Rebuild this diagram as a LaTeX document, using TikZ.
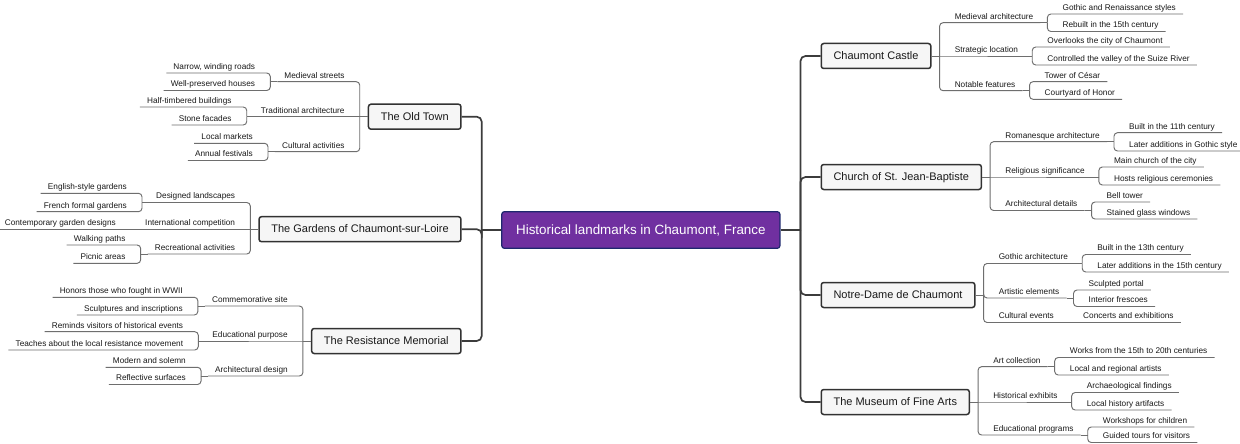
\documentclass[tikz,border=0pt]{standalone}
\usepackage{fontspec}
\setmainfont{Liberation Sans}
\usetikzlibrary{calc}
\definecolor{rootfill}{RGB}{112,48,160}
\definecolor{rootdraw}{RGB}{30,40,110}
\definecolor{boxfill}{RGB}{246,246,246}
\definecolor{boxdraw}{RGB}{50,50,50}
\definecolor{trunkc}{RGB}{60,60,60}
\definecolor{brc}{RGB}{110,110,110}
\definecolor{txt}{RGB}{25,25,25}
\tikzset{
  rootbox/.style={draw=rootdraw, fill=rootfill, line width=1.2pt, rounded corners=2.5pt, text=white,
    font=\fontsize{13.4}{16}\selectfont, inner xsep=14.3pt, inner ysep=0pt, minimum height=36.6pt, text height=9.8pt, text depth=1.2pt},
  topicbox/.style={draw=boxdraw, fill=boxfill, line width=1.5pt, rounded corners=2.5pt, text=txt,
    font=\fontsize{11}{13}\selectfont, inner xsep=12.3pt, inner ysep=0pt, minimum height=25pt, text height=8pt, text depth=1pt},
  lbl/.style={text=txt, font=\fontsize{8.25}{10}\selectfont, inner xsep=7pt, inner ysep=1.6pt, text height=6pt, text depth=1.8pt},
  trunk/.style={draw=trunkc, line width=1.7pt, rounded corners=5pt},
  br/.style={draw=brc, line width=0.95pt, rounded corners=3.5pt},
}
% right-hand topic: name, y, text
\newcommand\RTopic[3]{%
  \node[topicbox, anchor=west] (#1) at ($(rj |- 0,#2)+(20,0)$) {#3};
  \draw[trunk] (rj) |- (#1.west);
  \coordinate (#1o) at (#1.east);
  \coordinate (#1j) at ($(#1.east)+(8,0)$);
}
% left-hand topic
\newcommand\LTopic[3]{%
  \node[topicbox, anchor=east] (#1) at ($(lj |- 0,#2)+(-20,0)$) {#3};
  \draw[trunk] (lj) |- (#1.east);
  \coordinate (#1o) at (#1.west);
  \coordinate (#1j) at ($(#1.west)+(-8,0)$);
}
% right-hand label: name, parent, y, text
\newcommand\RSub[4]{%
  \node[lbl, anchor=south west] (#1) at ($(#2j |- 0,#3)+(8,0)$) {#4};
  \draw[br] (#2o) -- (#2j);
  \draw[br] (#2j) |- (#1.south west) -- (#1.south east);
  \coordinate (#1o) at (#1.south east);
  \coordinate (#1j) at ($(#1.south east)+(7,0)$);
}
% right-hand label on the parent's own line
\newcommand\RSubS[3]{%
  \node[lbl, anchor=south west] (#1) at ($(#2j)+(8,0)$) {#3};
  \draw[br] (#2o) -- (#2j) -- (#1.south west) -- (#1.south east);
  \coordinate (#1o) at (#1.south east);
  \coordinate (#1j) at ($(#1.south east)+(7,0)$);
}
% left-hand label
\newcommand\LSub[4]{%
  \node[lbl, anchor=south east] (#1) at ($(#2j |- 0,#3)+(-8,0)$) {#4};
  \draw[br] (#2o) -- (#2j);
  \draw[br] (#2j) |- (#1.south east) -- (#1.south west);
  \coordinate (#1o) at (#1.south west);
  \coordinate (#1j) at ($(#1.south west)+(-7,0)$);
}
% left-hand label on the parent's own line
\newcommand\LSubS[3]{%
  \node[lbl, anchor=south east] (#1) at ($(#2j)+(-8,0)$) {#3};
  \draw[br] (#2o) -- (#2j) -- (#1.south east) -- (#1.south west);
  \coordinate (#1o) at (#1.south west);
  \coordinate (#1j) at ($(#1.south west)+(-7,0)$);
}
\begin{document}
\begin{tikzpicture}[x=1pt, y=-1pt]
\fill[white] (0,0) rectangle (1240,444);
\useasboundingbox (0,0) rectangle (1240,444);

\node[rootbox] (root) at (640.85,230) {Historical landmarks in Chaumont, France};
\coordinate (rj) at ($(root.east)+(20,0)$);
\coordinate (lj) at ($(root.west)+(-19.5,0)$);
\draw[trunk] (root.east) -- (rj);
\draw[trunk] (root.west) -- (lj);

% ---------------- right side ----------------
\RTopic{c1}{56}{Chaumont Castle}
\RSub{c1a}{c1}{22.7}{Medieval architecture}
\RSub{c1a1}{c1a}{14}{Gothic and Renaissance styles}
\RSub{c1a2}{c1a}{31.5}{Rebuilt in the 15th century}
\RSubS{c1b}{c1}{Strategic location}
\RSub{c1b1}{c1b}{47}{Overlooks the city of Chaumont}
\RSub{c1b2}{c1b}{65}{Controlled the valley of the Suize River}
\RSub{c1c}{c1}{90.7}{Notable features}
\RSub{c1c1}{c1c}{81.7}{Tower of César}
\RSub{c1c2}{c1c}{99.3}{Courtyard of Honor}

\RTopic{c2}{177}{Church of St. Jean-Baptiste}
\RSub{c2a}{c2}{141.7}{Romanesque architecture}
\RSub{c2a1}{c2a}{132.7}{Built in the 11th century}
\RSub{c2a2}{c2a}{151}{Later additions in Gothic style}
\RSubS{c2b}{c2}{Religious significance}
\RSub{c2b1}{c2b}{167}{Main church of the city}
\RSub{c2b2}{c2b}{185}{Hosts religious ceremonies}
\RSub{c2c}{c2}{210.5}{Architectural details}
\RSub{c2c1}{c2c}{202}{Bell tower}
\RSub{c2c2}{c2c}{219}{Stained glass windows}

\RTopic{c3}{295}{Notre-Dame de Chaumont}
\RSub{c3a}{c3}{263.5}{Gothic architecture}
\RSub{c3a1}{c3a}{254.5}{Built in the 13th century}
\RSub{c3a2}{c3a}{272}{Later additions in the 15th century}
\RSub{c3b}{c3}{298}{Artistic elements}
\RSub{c3b1}{c3b}{290}{Sculpted portal}
\RSub{c3b2}{c3b}{306.5}{Interior frescoes}
\RSub{c3c}{c3}{322.5}{Cultural events}
\RSubS{c3c1}{c3c}{Concerts and exhibitions}

\RTopic{c4}{402}{The Museum of Fine Arts}
\RSub{c4a}{c4}{366.7}{Art collection}
\RSub{c4a1}{c4a}{357.5}{Works from the 15th to 20th centuries}
\RSub{c4a2}{c4a}{375}{Local and regional artists}
\RSubS{c4b}{c4}{Historical exhibits}
\RSub{c4b1}{c4b}{392.5}{Archaeological findings}
\RSub{c4b2}{c4b}{410}{Local history artifacts}
\RSub{c4c}{c4}{435}{Educational programs}
\RSub{c4c1}{c4c}{427}{Workshops for children}
\RSub{c4c2}{c4c}{442.5}{Guided tours for visitors}

% ---------------- left side ----------------
\LTopic{d1}{116.7}{The Old Town}
\LSub{d1a}{d1}{81.7}{Medieval streets}
\LSub{d1a1}{d1a}{73}{Narrow, winding roads}
\LSub{d1a2}{d1a}{90.5}{Well-preserved houses}
\LSubS{d1b}{d1}{Traditional architecture}
\LSub{d1b1}{d1b}{107}{Half-timbered buildings}
\LSub{d1b2}{d1b}{125}{Stone facades}
\LSub{d1c}{d1}{151.7}{Cultural activities}
\LSub{d1c1}{d1c}{143.3}{Local markets}
\LSub{d1c2}{d1c}{160.5}{Annual festivals}

\LTopic{d2}{229.2}{The Gardens of Chaumont-sur-Loire}
\LSub{d2a}{d2}{202.5}{Designed landscapes}
\LSub{d2a1}{d2a}{193.3}{English-style gardens}
\LSub{d2a2}{d2a}{211.7}{French formal gardens}
\LSubS{d2b}{d2}{International competition}
\LSubS{d2b1}{d2b}{Contemporary garden designs}
\LSub{d2c}{d2}{254}{Recreational activities}
\LSub{d2c1}{d2c}{245}{Walking paths}
\LSub{d2c2}{d2c}{263.3}{Picnic areas}

\LTopic{d3}{341}{The Resistance Memorial}
\LSub{d3a}{d3}{306}{Commemorative site}
\LSub{d3a1}{d3a}{297.3}{Honors those who fought in WWII}
\LSub{d3a2}{d3a}{315}{Sculptures and inscriptions}
\LSubS{d3b}{d3}{Educational purpose}
\LSub{d3b1}{d3b}{331.7}{Reminds visitors of historical events}
\LSub{d3b2}{d3b}{350}{Teaches about the local resistance movement}
\LSub{d3c}{d3}{376}{Architectural design}
\LSub{d3c1}{d3c}{367.3}{Modern and solemn}
\LSub{d3c2}{d3c}{384.5}{Reflective surfaces}
\end{tikzpicture}
\end{document}
